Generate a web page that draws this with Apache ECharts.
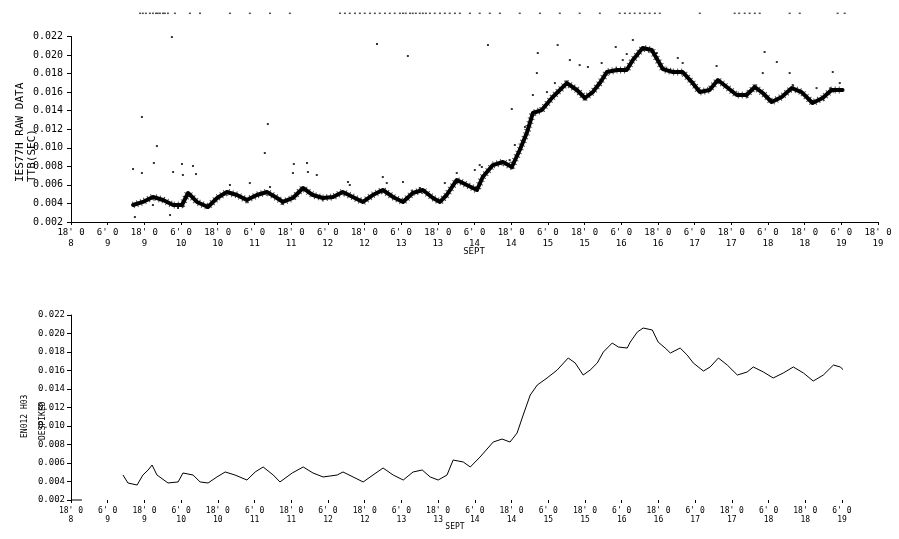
<!DOCTYPE html>
<html><head><meta charset="utf-8">
<script src="https://cdn.jsdelivr.net/npm/echarts@6/dist/echarts.min.js"></script>
<style>html,body{margin:0;padding:0;background:#fff}#c{width:899px;height:539px}</style>
</head><body><div id="c"></div>
<script>
// Hours counted from 18h, 8 Sept.  Values are travel time (sec).
const yTicks = [0.002, 0.022, 0.002]; // min, max, step
const topTitle1 = 'IES77H RAW DATA';
const topTitle2 = 'TTB(SEC)';
const botTitle1 = 'EN012 H03';
const botTitle2 = 'DESPIKED';
const xLabel = 'SEPT';

// Raw data, dense band (centre of the cloud)
const rawBand = [
 [20.3,0.00383],[23.5,0.00416],[26.8,0.0047],[30.1,0.00437],[33.4,0.00383],[36.3,0.00383],[38.3,0.00513],
 [41.2,0.00416],[44.8,0.00362],[47.8,0.00459],[51.0,0.00523],[54.3,0.00491],[57.5,0.00437],[60.8,0.00491],
 [64.1,0.00523],[67.4,0.00459],[69.3,0.00416],[72.6,0.00459],[75.9,0.00567],[79.1,0.00491],[82.4,0.00459],
 [85.7,0.0047],[88.9,0.00523],[92.2,0.0047],[95.5,0.00416],[98.7,0.00491],[102.0,0.00545],[105.3,0.0047],
 [108.6,0.00416],[111.8,0.00513],[115.1,0.00545],[118.4,0.00459],[120.7,0.00416],[122.9,0.00491],
 [126.2,0.00653],[129.5,0.00599],[132.8,0.00545],[134.7,0.00685],[138.0,0.00814],[141.3,0.00847],
 [144.2,0.00793],[146.8,0.00976],[149.1,0.01159],[151.1,0.01375],[154.0,0.01407],[157.6,0.01548],
 [162.2,0.01698],[165.5,0.01623],[168.1,0.01537],[170.7,0.01601],[173.0,0.01698],[175.3,0.01817],
 [178.6,0.01839],[181.8,0.01839],[183.8,0.01946],[187.0,0.02076],[190.0,0.02054],[191.9,0.01946],
 [193.6,0.01849],[196.9,0.01817],[200.1,0.01817],[203.1,0.01709],[205.7,0.01601],[208.9,0.01623],
 [211.6,0.01731],[214.5,0.01655],[217.8,0.01569],[221.0,0.01569],[223.7,0.01655],[226.3,0.01591],
 [229.2,0.01494],[232.5,0.01548],[235.8,0.01644],[239.0,0.01601],[242.6,0.01483],[245.9,0.01537],
 [248.8,0.01623],[252.4,0.01623]
];

// Raw data, scattered points away from the band
const rawScatter = [
 [33.0,0.02194],[23.2,0.01332],[28.1,0.01019],[27.1,0.00836],[64.4,0.01256],[63.4,0.00944],[72.9,0.00825],
 [36.3,0.00825],[39.9,0.00804],[20.3,0.00771],[33.4,0.00739],[23.2,0.00728],[36.6,0.00707],[40.9,0.00717],
 [72.6,0.00728],[77.2,0.00836],[80.4,0.00707],[77.5,0.00739],[90.6,0.00631],[102.0,0.00685],[103.3,0.0062],
 [108.6,0.00631],[122.3,0.0062],[126.2,0.00728],[133.7,0.00814],[128.2,0.0062],[32.4,0.00275],[20.9,0.00254],
 [44.5,0.00351],[26.8,0.00383],[35.0,0.00351],[58.5,0.0062],[52.0,0.00599],[65.1,0.00577],[91.2,0.00599],
 [114.1,0.00567],[136.4,0.02108],[159.2,0.02108],[152.7,0.02022],[178.2,0.02087],[183.8,0.02162],
 [190.0,0.02205],[152.4,0.01806],[144.2,0.01418],[158.3,0.01698],[163.2,0.01946],[166.4,0.01892],
 [169.1,0.01871],[226.9,0.02033],[230.9,0.01925],[211.2,0.01882],[249.2,0.01817],[235.1,0.01806],
 [226.3,0.01806],[200.1,0.01914],[198.5,0.01968],[181.8,0.02011],[173.6,0.01914],[155.7,0.01601],
 [151.1,0.01569],[148.5,0.01224],[145.2,0.0103],[143.5,0.00868],[134.4,0.00793],[132.1,0.00761],
 [180.5,0.01946],[191.6,0.02022],[243.9,0.01644],[236.1,0.01677],[251.5,0.01698],[100.1,0.02119],[110.2,0.0199]
];

// Off-scale points, plotted along the top edge
const offScaleValue = 0.0245;
const offScaleHours = [22.6,23.5,24.5,25.8,26.8,27.8,28.4,29.1,30.1,30.7,31.7,34.0,38.9,42.2,52.0,58.5,65.1,71.6,
 88.0,89.6,91.2,92.9,94.5,96.1,97.8,99.4,101.0,102.7,104.3,105.9,107.6,108.6,109.5,110.9,111.8,112.8,114.1,
 115.1,116.1,117.4,119.0,120.7,122.3,123.9,125.6,127.2,130.5,133.7,137.0,140.3,146.8,153.4,159.9,166.4,
 173.0,179.5,181.2,182.8,184.4,186.1,187.7,189.3,191.0,192.6,205.7,217.1,218.6,220.4,222.0,223.7,225.3,
 235.1,238.4,250.8,253.1];

// Despiked series
const despiked = [
 [17.0,0.0047],[18.6,0.00384],[21.6,0.00362],[23.5,0.0047],[25.2,0.00524],[26.5,0.00578],[28.1,0.0047],
 [31.7,0.00384],[35.0,0.00395],[36.6,0.00492],[39.9,0.0047],[42.2,0.00395],[44.8,0.00384],[47.7,0.00449],
 [50.4,0.00503],[53.6,0.0047],[57.5,0.00416],[60.2,0.00503],[62.8,0.00557],[66.1,0.0047],[68.3,0.00395],
 [72.3,0.00492],[75.9,0.00557],[79.1,0.00492],[82.4,0.00449],[87.0,0.0047],[88.9,0.00503],[92.2,0.00449],
 [95.5,0.00395],[98.7,0.0047],[102.0,0.00546],[105.3,0.0047],[108.6,0.00416],[111.8,0.00503],[114.8,0.00524],
 [117.4,0.00449],[120.0,0.00416],[122.9,0.0047],[124.9,0.00632],[128.2,0.00611],[130.5,0.00557],
 [133.7,0.00665],[138.0,0.00827],[140.9,0.00859],[143.5,0.00827],[145.8,0.00924],[147.8,0.01119],
 [150.1,0.01335],[152.4,0.01443],[155.6,0.01519],[158.9,0.01605],[162.5,0.01735],[164.8,0.01681],
 [167.4,0.01551],[169.7,0.01605],[172.0,0.01681],[174.0,0.018],[176.9,0.01897],[178.9,0.01854],
 [181.8,0.01843],[182.8,0.01908],[185.1,0.02016],[187.0,0.02059],[190.0,0.02038],[191.9,0.01908],
 [194.2,0.01843],[195.9,0.01789],[199.1,0.01843],[201.4,0.01767],[203.4,0.01681],[206.7,0.01594],
 [208.9,0.01638],[211.6,0.01735],[214.5,0.01659],[217.8,0.01551],[221.0,0.01584],[223.0,0.01638],
 [226.3,0.01584],[229.5,0.01519],[232.8,0.01573],[236.1,0.01638],[239.4,0.01573],[242.6,0.01486],
 [245.9,0.01551],[249.2,0.01659],[251.5,0.01638],[253.7,0.01562]
];

const topXMax = 264, botXMax = 252, xStep = 12;

const FONT = 'DejaVu Sans Mono';
function xFmt(v) {
  const t = 18 + v;
  const hh = t % 24;
  const day = 8 + Math.floor(t / 24);
  return hh + "' 0\n" + day;
}
function yFmt(v) { return v.toFixed(3); }

const chart = echarts.init(document.getElementById('c'), null, {renderer: 'canvas'});
const black = '#000';
chart.setOption({
  animation: false,
  backgroundColor: '#fff',
  grid: [
    {left: 71, right: 21, top: 36.5, bottom: 317},
    {left: 71, right: 57, top: 315, bottom: 39}
  ],
  xAxis: [
    {gridIndex: 0, type: 'value', min: 0, max: topXMax, interval: xStep,
     axisLine: {lineStyle: {color: black, width: 1}},
     axisTick: {length: 3, lineStyle: {color: black}},
     splitLine: {show: false},
     axisLabel: {formatter: xFmt, color: black, fontFamily: FONT, fontSize: 9, lineHeight: 11, margin: 5, showMaxLabel: true, showMinLabel: true}},
    {gridIndex: 1, type: 'value', min: 0, max: botXMax, interval: xStep,
     axisLine: {show: false},
     axisTick: {show: true, length: 3, lineStyle: {color: black}},
     splitLine: {show: false},
     axisLabel: {formatter: xFmt, color: black, fontFamily: FONT, fontSize: 8, lineHeight: 9, margin: 6, showMaxLabel: true, showMinLabel: true}}
  ],
  yAxis: [
    {gridIndex: 0, type: 'value', min: yTicks[0], max: yTicks[1], interval: yTicks[2],
     axisLine: {show: true, lineStyle: {color: black}},
     axisTick: {show: true, length: 4, lineStyle: {color: black}},
     splitLine: {show: false},
     axisLabel: {formatter: yFmt, color: black, fontFamily: FONT, fontSize: 10, margin: 8}},
    {gridIndex: 1, type: 'value', min: yTicks[0], max: yTicks[1], interval: yTicks[2],
     axisLine: {show: true, lineStyle: {color: black}},
     axisTick: {show: true, length: 4, lineStyle: {color: black}},
     splitLine: {show: false},
     axisLabel: {formatter: yFmt, color: black, fontFamily: FONT, fontSize: 9, margin: 6}}
  ],
  series: [
    {type: 'line', xAxisIndex: 0, yAxisIndex: 0, data: rawBand, showSymbol: false,
     lineStyle: {color: black, width: 4, join: 'round', cap: 'round'}},
    {type: 'line', xAxisIndex: 0, yAxisIndex: 0, data: rawBand, showSymbol: false,
     lineStyle: {color: '#222', width: 7, type: [1, 3], opacity: 0.8}, z: 1},
    {type: 'scatter', xAxisIndex: 0, yAxisIndex: 0, data: rawScatter, symbol: 'rect', symbolSize: 2,
     itemStyle: {color: black}},
    {type: 'scatter', xAxisIndex: 0, yAxisIndex: 0, clip: false,
     data: offScaleHours.map(h => [h, offScaleValue]), symbol: 'rect', symbolSize: [2, 1.5],
     itemStyle: {color: '#222'}},
    {type: 'line', xAxisIndex: 1, yAxisIndex: 1, data: despiked, showSymbol: false,
     lineStyle: {color: black, width: 1}}
  ],
  graphic: [
    {type: 'text', x: 20, y: 182, rotation: Math.PI / 2,
     style: {text: topTitle1, font: '11px ' + FONT, fill: black, textAlign: 'left', textVerticalAlign: 'middle'}},
    {type: 'text', x: 32, y: 182, rotation: Math.PI / 2,
     style: {text: topTitle2, font: '11px ' + FONT, fill: black, textAlign: 'left', textVerticalAlign: 'middle'}},
    {type: 'text', x: 25, y: 438, rotation: Math.PI / 2,
     style: {text: botTitle1, font: '8px ' + FONT, fill: black, textAlign: 'left', textVerticalAlign: 'middle'}},
    {type: 'text', x: 43, y: 440, rotation: Math.PI / 2,
     style: {text: botTitle2, font: '8px ' + FONT, fill: black, textAlign: 'left', textVerticalAlign: 'middle'}},
    {type: 'text', x: 474, y: 252,
     style: {text: xLabel, font: '9px ' + FONT, fill: black, textAlign: 'center', textVerticalAlign: 'middle'}},
    {type: 'text', x: 455, y: 527,
     style: {text: xLabel, font: '8px ' + FONT, fill: black, textAlign: 'center', textVerticalAlign: 'middle'}},
    {type: 'line', shape: {x1: 71, y1: 500, x2: 82, y2: 500}, style: {stroke: black, lineWidth: 1}}
  ]
});
</script>
</body></html>
